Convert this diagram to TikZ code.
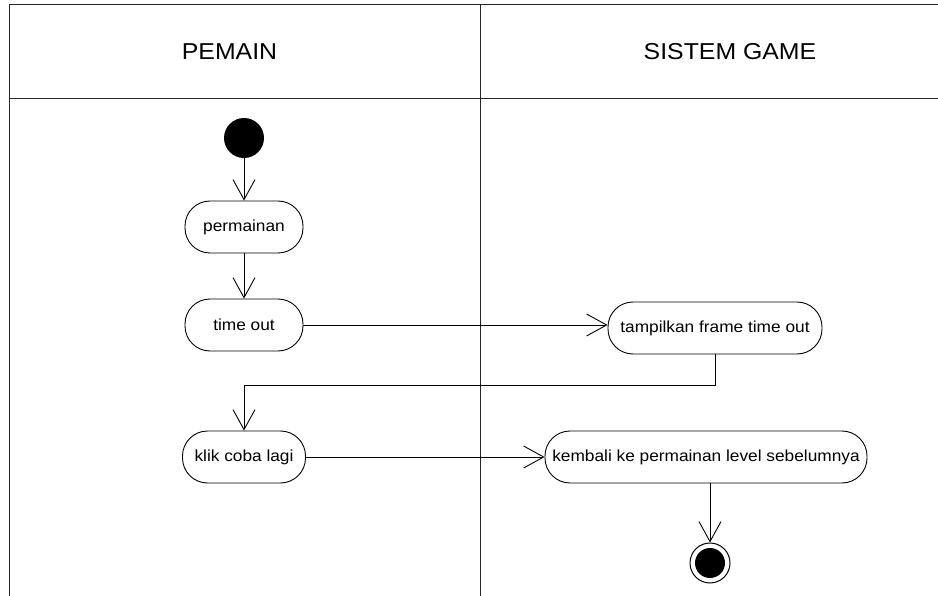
\documentclass[tikz,border=0pt]{standalone}
\usepackage{fontspec}
\setmainfont{Liberation Sans}[FakeStretch=1.08]
\usetikzlibrary{arrows.meta}
\begin{document}
\begin{tikzpicture}[x=1pt,y=-1pt,
  lane/.style={line width=1pt, draw=black!85},
  action/.style={draw, line width=0.9pt, rounded corners=25pt, minimum height=52pt,
    inner sep=0pt, font=\fontsize{16}{18}\selectfont, align=center},
  flow/.style={line width=0.9pt, -{Straight Barb[length=20pt,width=22pt]}},
  lanetitle/.style={font=\fontsize{23}{26}\selectfont, anchor=base, inner sep=0pt},
  startnode/.style={circle, fill=black, minimum size=40pt, inner sep=0pt},
  endring/.style={circle, draw, line width=1pt, minimum size=40pt, inner sep=0pt},
  enddot/.style={circle, fill=black, minimum size=30pt, inner sep=0pt}
]
\useasboundingbox (0,0) rectangle (938,596);

% swimlane frame
\draw[lane] (9,596) -- (9,5) -- (938,5);
\draw[lane] (9,98.5) -- (938,98.5);
\draw[lane] (480,5) -- (480,596);
\node[lanetitle] (pemain) at (229.5,59.3) {PEMAIN};
\node[lanetitle] (sistem) at (730,59.3) {SISTEM GAME};

% actions
\node[startnode] (start) at (244,138) {};
\node[action, minimum width=118pt] (permainan) at (244,227) {permainan};
\node[action, minimum width=118pt] (timeout) at (244,325) {time out};
\node[action, minimum width=123pt] (klik) at (244,457) {klik coba lagi};
\node[action, minimum width=214pt] (tampilkan) at (715,328) {tampilkan frame time out};
\node[action, minimum width=322pt] (kembali) at (706,457) {kembali ke permainan level sebelumnya};
\node[endring] (finish) at (710,563) {};
\node[enddot] (finishdot) at (finish) {};

% control flow
\draw[flow] (start) -- (permainan);
\draw[flow] (permainan) -- (timeout);
\draw[flow] (timeout) -- (tampilkan.west |- timeout);
\draw[flow] (tampilkan.south) -- ++(0,31) -| (klik.north);
\draw[flow] (klik) -- (kembali);
\draw[flow] (kembali.south -| finish) -- (finish.north);
\end{tikzpicture}
\end{document}
